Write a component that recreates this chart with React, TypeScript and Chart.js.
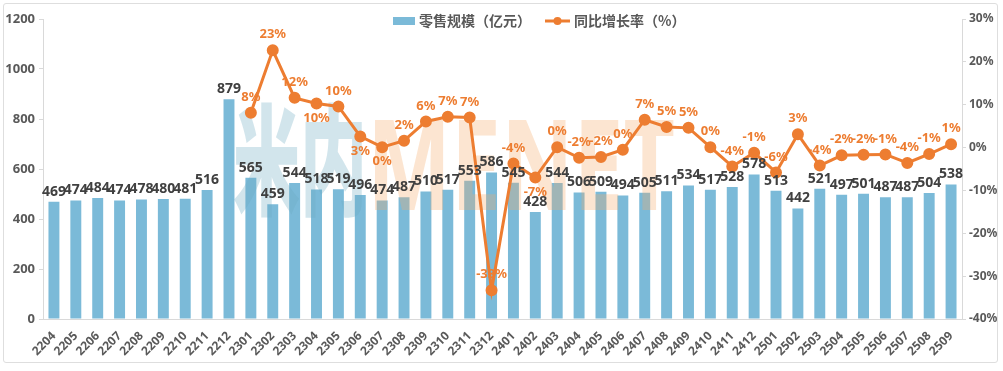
import React, { useEffect, useRef } from 'react';
import { Chart, registerables } from 'chart.js';

Chart.register(...registerables);

const categories = [
  '2204', '2205', '2206', '2207', '2208', '2209', '2210', '2211', '2212',
  '2301', '2302', '2303', '2304', '2305', '2306', '2307', '2308', '2309', '2310', '2311', '2312',
  '2401', '2402', '2403', '2404', '2405', '2406', '2407', '2408', '2409', '2410', '2411', '2412',
  '2501', '2502', '2503', '2504', '2505', '2506', '2507', '2508', '2509',
];

const retailScale = [
  469, 474, 484, 474, 478, 480, 481, 516, 879,
  565, 459, 544, 518, 519, 496, 474, 487, 510, 517, 553, 586,
  545, 428, 544, 506, 509, 494, 505, 511, 534, 517, 528, 578,
  513, 442, 521, 497, 501, 487, 487, 504, 538,
];

const yoyGrowth: (number | null)[] = [
  null, null, null, null, null, null, null, null, null,
  8.1, 22.7, 11.6, 10.3, 9.6, 2.6, 0.1, 1.6, 6.1, 7.2, 7.0, -33.3,
  -3.7, -7.0, 0.1, -2.4, -2.2, -0.5, 6.5, 4.8, 4.6, 0.1, -4.4, -1.2,
  -5.8, 3.1, -4.2, -1.8, -1.7, -1.6, -3.6, -1.5, 0.8,
];

const yoyLabels: (string | null)[] = [
  null, null, null, null, null, null, null, null, null,
  '8%', '23%', '12%', '10%', '10%', '3%', '0%', '2%', '6%', '7%', '7%', '-33%',
  '-4%', '-7%', '0%', '-2%', '-2%', '0%', '7%', '5%', '5%', '0%', '-4%', '-1%',
  '-6%', '3%', '-4%', '-2%', '-2%', '-1%', '-4%', '-1%', '1%',
];

const leftTicks = [0, 200, 400, 600, 800, 1000, 1200];
const rightTicks = [-40, -30, -20, -10, 0, 10, 20, 30];
const lineLabelBelow = ['2304', '2306', '2307', '2402'];

const seriesNames = ['零售规模（亿元）', '同比增长率（%）'];

const BAR_COLOR = '#7bbad8';
const LINE_COLOR = '#ed7d31';
const TEXT_COLOR = '#595959';
const FONT = '"Noto Sans", "Noto Sans CJK SC", sans-serif';

export default function App() {
  const canvasRef = useRef<HTMLCanvasElement | null>(null);

  useEffect(() => {
    document.body.style.margin = '0';
    const canvas = canvasRef.current;
    if (!canvas) return;

    const watermark = {
      id: 'watermark',
      afterDatasetDraw(chart: any, args: any) {
        if (args.index !== 0) return;
        const ctx = chart.ctx;
        ctx.save();
        ctx.globalAlpha = 0.3;
        ctx.textBaseline = 'alphabetic';
        ctx.font = '900 120px "Noto Sans CJK SC", sans-serif';
        const cn = '米内';
        const wCn = ctx.measureText(cn).width;
        ctx.fillStyle = '#6aa9c0';
        ctx.save();
        ctx.translate(233, 206);
        ctx.scale(134 / wCn, 1);
        ctx.fillText(cn, 0, 0);
        ctx.restore();
        ctx.font = 'bold 126px "Noto Sans", sans-serif';
        const en = 'MENET';
        const wEn = ctx.measureText(en).width;
        ctx.fillStyle = '#f6a868';
        ctx.save();
        ctx.translate(367, 210);
        ctx.scale(308 / wEn, 1);
        ctx.fillText(en, 0, 0);
        ctx.restore();
        ctx.restore();
      },
    };

    const labels = {
      id: 'labels',
      afterDatasetsDraw(chart: any) {
        const ctx = chart.ctx;
        ctx.save();
        const barMeta = chart.getDatasetMeta(0);
        ctx.font = `bold 14px ${FONT}`;
        ctx.fillStyle = '#404040';
        ctx.textAlign = 'center';
        ctx.textBaseline = 'bottom';
        barMeta.data.forEach((el: any, i: number) => {
          ctx.fillText(String(retailScale[i]), el.x, el.y - 3);
        });
        const lineMeta = chart.getDatasetMeta(1);
        ctx.font = `bold 13px ${FONT}`;
        ctx.fillStyle = LINE_COLOR;
        lineMeta.data.forEach((el: any, i: number) => {
          const t = yoyLabels[i];
          if (t == null || yoyGrowth[i] == null) return;
          if (lineLabelBelow.includes(categories[i])) {
            ctx.textBaseline = 'top';
            ctx.fillText(t, el.x, el.y + 8);
          } else {
            ctx.textBaseline = 'bottom';
            ctx.fillText(t, el.x, el.y - 9);
          }
        });
        ctx.restore();
      },
    };

    const legend = {
      id: 'customLegend',
      afterDraw(chart: any) {
        const ctx = chart.ctx;
        ctx.save();
        ctx.font = `bold 14px "Noto Sans CJK SC", sans-serif`;
        ctx.fillStyle = TEXT_COLOR;
        ctx.textBaseline = 'middle';
        ctx.textAlign = 'left';
        const y = 21;
        ctx.fillStyle = BAR_COLOR;
        ctx.fillRect(393, y - 4, 22, 8);
        ctx.fillStyle = TEXT_COLOR;
        ctx.fillText(seriesNames[0], 419, y);
        ctx.strokeStyle = LINE_COLOR;
        ctx.lineWidth = 3;
        ctx.beginPath();
        ctx.moveTo(545, y);
        ctx.lineTo(570, y);
        ctx.stroke();
        ctx.fillStyle = LINE_COLOR;
        ctx.beginPath();
        ctx.arc(557.5, y, 4, 0, Math.PI * 2);
        ctx.fill();
        ctx.fillStyle = TEXT_COLOR;
        ctx.fillText(seriesNames[1], 574, y);
        ctx.restore();
      },
    };

    const chart = new Chart(canvas, {
      data: {
        labels: categories,
        datasets: [
          {
            type: 'bar',
            label: seriesNames[0],
            data: retailScale,
            backgroundColor: BAR_COLOR,
            yAxisID: 'y',
            categoryPercentage: 1,
            barPercentage: 0.5,
            order: 1,
          },
          {
            type: 'line',
            label: seriesNames[1],
            data: yoyGrowth,
            borderColor: LINE_COLOR,
            backgroundColor: LINE_COLOR,
            borderWidth: 3,
            pointRadius: 4.5,
            pointBackgroundColor: LINE_COLOR,
            pointBorderColor: LINE_COLOR,
            yAxisID: 'y1',
            spanGaps: false,
            order: 0,
          },
        ],
      } as any,
      options: {
        animation: false,
        responsive: false,
        maintainAspectRatio: false,
        layout: { padding: { top: 19, left: 0, right: 0, bottom: 0 } },
        plugins: {
          legend: { display: false },
          tooltip: { enabled: false },
        },
        scales: {
          x: {
            grid: { display: false },
            border: { display: true, color: '#d9d9d9' },
            ticks: {
              color: TEXT_COLOR,
              font: { family: FONT, size: 12, weight: 'bold' },
              maxRotation: 45,
              minRotation: 45,
              autoSkip: false,
              padding: 2,
            },
            afterFit(scale: any) {
              scale.height = 52;
            },
          },
          y: {
            position: 'left',
            min: 0,
            max: 1200,
            afterBuildTicks(scale: any) {
              scale.ticks = leftTicks.map((v) => ({ value: v }));
            },
            grid: { drawOnChartArea: false, drawTicks: true, tickLength: 4, color: '#d9d9d9' },
            border: { display: true, color: '#d9d9d9' },
            ticks: {
              color: TEXT_COLOR,
              font: { family: FONT, size: 13, weight: 'bold' },
              padding: 4,
              callback: (v: any) => String(v),
            },
            afterFit(scale: any) {
              scale.width = 43;
            },
          },
          y1: {
            position: 'right',
            min: -40,
            max: 30,
            afterBuildTicks(scale: any) {
              scale.ticks = rightTicks.map((v) => ({ value: v }));
            },
            grid: { drawOnChartArea: false, drawTicks: true, tickLength: 4, color: '#d9d9d9' },
            border: { display: true, color: '#d9d9d9' },
            ticks: {
              color: TEXT_COLOR,
              font: { family: FONT, size: 12, weight: 'bold' },
              padding: 3,
              callback: (v: any) => `${v}%`,
            },
            afterFit(scale: any) {
              scale.width = 41;
            },
          },
        },
      } as any,
      plugins: [watermark, labels, legend],
    });

    return () => chart.destroy();
  }, []);

  return (
    <div style={{ position: 'relative', width: 1003, height: 371, background: '#fff' }}>
      <div
        style={{
          position: 'absolute',
          left: 3,
          top: 3,
          width: 995,
          height: 360,
          border: '1px solid #dedede',
          borderRadius: 3,
          boxSizing: 'border-box',
        }}
      />
      <canvas ref={canvasRef} width={1003} height={371} style={{ position: 'absolute', left: 0, top: 0 }} />
    </div>
  );
}
